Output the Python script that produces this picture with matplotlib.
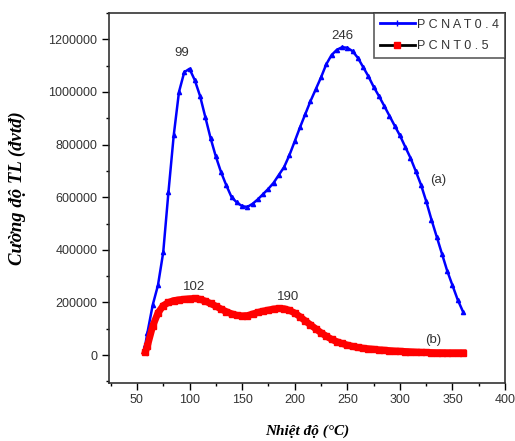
import numpy as np
import matplotlib
matplotlib.use("Agg")
import matplotlib.pyplot as plt
from matplotlib.ticker import MultipleLocator, FormatStrFormatter

# Temperature grid (deg C) and TL intensities
temps = [58, 60, 65, 70, 75, 80, 85, 90, 95, 100, 105, 110, 115, 120, 125,
         130, 135, 140, 145, 150, 155, 160, 165, 170, 175, 180, 185, 190,
         195, 200, 205, 210, 215, 220, 225, 230, 235, 240, 245, 250, 255,
         260, 265, 270, 275, 280, 285, 290, 295, 300, 305, 310, 315, 320,
         325, 330, 335, 340, 345, 350, 355, 360]

pcnat = [40000, 85000, 190000, 265000, 390000, 620000, 835000, 1000000,
         1075000, 1088000, 1045000, 985000, 905000, 825000, 755000, 695000,
         645000, 600000, 580000, 566000, 563000, 575000, 592000, 612000,
         632000, 655000, 685000, 715000, 760000, 812000, 865000, 915000,
         965000, 1010000, 1055000, 1105000, 1140000, 1160000, 1170000,
         1168000, 1155000, 1130000, 1095000, 1060000, 1020000, 985000,
         948000, 910000, 872000, 835000, 792000, 750000, 700000, 648000,
         585000, 515000, 450000, 385000, 320000, 265000, 210000, 165000]

pcnt = [12000, 35000, 110000, 160000, 188000, 200000, 207000, 210000,
        212000, 214000, 215000, 212000, 205000, 196000, 186000, 175000,
        165000, 157000, 151000, 149000, 150000, 156000, 162000, 167000,
        171000, 175000, 177000, 176000, 170000, 160000, 146000, 130000,
        115000, 100000, 85000, 72000, 60000, 51000, 44000, 38000, 33000,
        29000, 26000, 24000, 22000, 20000, 18500, 17000, 15500, 14500,
        13500, 12500, 11500, 10500, 10000, 9500, 9000, 9000, 8700, 8700,
        8700, 8700]

# text annotations: (label, T, intensity)
peak_labels = [("99", 93, 1148000), ("246", 245, 1212000),
               ("102", 104, 257000), ("190", 194, 219000),
               ("(a)", 336, 665000), ("(b)", 332, 57000)]

fig = plt.figure(figsize=(5.15, 4.41), dpi=100)
ax = fig.add_axes([0.2107, 0.1322, 0.77, 0.8383])

ax.plot(temps, pcnat, color="#0000ff", lw=1.8, marker="^", ms=3,
        label="P C N A T 0 . 4")
ax.plot(temps, pcnt, color="#ff0000", lw=5, marker="s", ms=4,
        label="P C N T 0 . 5")

txt_col = "#333333"
for txt, t, v in peak_labels:
    ax.text(t, v, txt, ha="center", va="center", fontsize=9.5,
            family="Liberation Sans", color=txt_col)

ax.set_xlim(23, 400)
ax.set_ylim(-105000, 1300000)
ax.set_xticks(np.arange(50, 401, 50))
ax.xaxis.set_minor_locator(MultipleLocator(25))
ax.yaxis.set_major_locator(MultipleLocator(200000))
ax.yaxis.set_minor_locator(MultipleLocator(100000))
ax.yaxis.set_major_formatter(FormatStrFormatter("%d"))
ax.tick_params(which="major", direction="out", length=5, width=1,
               labelsize=9, labelcolor=txt_col, pad=3)
ax.tick_params(which="minor", direction="out", length=2.5, width=1)
for lab in ax.get_xticklabels() + ax.get_yticklabels():
    lab.set_family("Liberation Sans")
for s in ax.spines.values():
    s.set_linewidth(1.2)
    s.set_color("#333333")

ax.set_xlabel("Nhiệt độ (°C)", family="Liberation Serif", fontsize=11,
              fontweight="bold", style="italic", va="center")
ax.set_ylabel("Cường độ TL (đvtđ)", family="Liberation Serif", fontsize=13.5,
              fontweight="bold", style="italic", va="center")
ax.xaxis.set_label_coords(0.502, -0.1325)
ax.yaxis.set_label_coords(-0.231, 0.527)

# legend: black line with red marker for second entry
h1, = ax.plot([], [], color="#0000ff", lw=2, marker="|", ms=4)
h2, = ax.plot([], [], color="black", lw=2, marker="s", ms=4,
              markerfacecolor="red", markeredgecolor="red")
leg = ax.legend([h1, h2], ["P C N A T 0 . 4", "P C N T 0 . 5"],
                loc="upper right", bbox_to_anchor=(1.0, 1.0),
                prop={"family": "Liberation Sans", "size": 9},
                frameon=True, fancybox=False,
                borderaxespad=0, handlelength=2.8, handletextpad=0.2,
                borderpad=0.45, labelspacing=0.75)
leg.get_frame().set_edgecolor("#333333")
leg.get_frame().set_linewidth(1.2)
for t in leg.get_texts():
    t.set_color(txt_col)

fig.savefig("out.png", dpi=100)
